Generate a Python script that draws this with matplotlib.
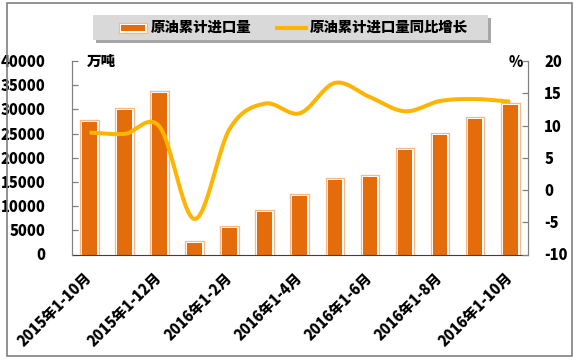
import numpy as np
import matplotlib
matplotlib.use("Agg")
import matplotlib.pyplot as plt
import matplotlib.patheffects as pe
from matplotlib.patches import Rectangle
from matplotlib.lines import Line2D

plt.rcParams['font.family'] = ['Noto Sans CJK JP', 'DejaVu Sans']
plt.rcParams['font.weight'] = 900

categories = ['2015年1-10月', '2015年1-11月', '2015年1-12月', '2016年1月', '2016年1-2月',
              '2016年1-3月', '2016年1-4月', '2016年1-5月', '2016年1-6月', '2016年1-7月',
              '2016年1-8月', '2016年1-9月', '2016年1-10月']
imports = [27300, 29900, 33400, 2450, 5450, 8800, 12000, 15300, 16000, 21500, 24800, 28000, 31000]
growth = [8.9, 8.7, 9.8, -4.5, 9.5, 13.4, 11.9, 16.6, 14.4, 12.2, 13.8, 14.1, 13.7]
left_ticks = [0, 5000, 10000, 15000, 20000, 25000, 30000, 35000, 40000]
right_ticks = [-10, -5, 0, 5, 10, 15, 20]
series_names = ['原油累计进口量', '原油累计进口量同比增长']

W, H = 578, 364
BAR = '#E46C0A'
PEACH = '#F6B98C'
GOLD = '#FFB400'
FS = 10.5
WT = 900

def fx(x):
    return x / W

def fy(y):
    return 1 - y / H

fig = plt.figure(figsize=(W / 100, H / 100), dpi=100)
ax = fig.add_axes([fx(72), fy(254.5), (527.7 - 72) / W, (254.5 - 61) / H])
ax2 = ax.twinx()

bar_fx = [pe.Stroke(linewidth=3.8, foreground=PEACH),
          pe.Stroke(linewidth=2.0, foreground='white'),
          pe.Normal()]

x = np.arange(len(categories))
bars = ax.bar(x, imports, width=0.42, color=BAR, edgecolor='none', zorder=2)
for b in bars:
    b.set_path_effects(bar_fx)

# smooth line (Catmull-Rom rendering through the data points)
def catmull(xs, ys, n=24):
    xs = np.asarray(xs, float)
    ys = np.asarray(ys, float)
    px = np.concatenate([[2 * xs[0] - xs[1]], xs, [2 * xs[-1] - xs[-2]]])
    py = np.concatenate([[2 * ys[0] - ys[1]], ys, [2 * ys[-1] - ys[-2]]])
    outx, outy = [], []
    for i in range(1, len(px) - 2):
        t = np.linspace(0, 1, n, endpoint=False)
        for P, out in ((px, outx), (py, outy)):
            p0, p1, p2, p3 = P[i - 1], P[i], P[i + 1], P[i + 2]
            out.extend(0.5 * ((2 * p1) + (-p0 + p2) * t +
                              (2 * p0 - 5 * p1 + 4 * p2 - p3) * t ** 2 +
                              (-p0 + 3 * p1 - 3 * p2 + p3) * t ** 3))
    outx.append(xs[-1])
    outy.append(ys[-1])
    return np.array(outx), np.array(outy)

sx, sy = catmull(x, growth)
ax2.plot(sx, sy, color=GOLD, lw=2.9, solid_capstyle='butt', zorder=3)

ax.set_xlim(-0.5, len(categories) - 0.5)
ax.set_ylim(0, 40000)
ax2.set_ylim(-10, 20)
ax.set_yticks(left_ticks)
ax.set_yticklabels([str(v) for v in left_ticks])
ax2.set_yticks(right_ticks)
ax2.set_yticklabels([str(v) for v in right_ticks])
ax.set_xticks(x[::2])
ax.set_xticklabels(categories[::2], rotation=45, ha='right', va='center',
                   rotation_mode='anchor', fontsize=FS, fontweight=WT)
ax.tick_params(axis='x', length=0, pad=15)
ax.tick_params(axis='y', direction='in', length=4, width=0.9, color='#808080',
               pad=19, labelsize=FS)
ax2.tick_params(axis='y', direction='in', length=4, width=0.9, color='#808080',
                pad=12, labelsize=FS)
for a in (ax, ax2):
    a.spines['top'].set_visible(False)
    a.spines['left'].set_color('#808080')
    a.spines['right'].set_color('#808080')
    a.spines['bottom'].set_color('#404040')
    a.patch.set_visible(False)
for lab in ax.get_yticklabels() + ax2.get_yticklabels():
    lab.set_fontweight(WT)
ax2.spines['bottom'].set_visible(False)
ax2.set_zorder(ax.get_zorder() + 1)

ax.text(0.0636, 1.0, '万吨', transform=ax.transAxes, ha='center', va='center',
        fontsize=FS, fontweight=WT)
ax.text(0.974, 0.99, '%', transform=ax.transAxes, ha='center', va='center',
        fontsize=FS, fontweight=WT)

# outer border
fig.patches.append(Rectangle((fx(6.5), fy(356)), fx(572) - fx(6.5), fy(3) - fy(356),
                             transform=fig.transFigure, facecolor='none',
                             edgecolor='#7f7f7f', lw=1.2))

# legend (manual)
fig.patches.append(Rectangle((fx(96), fy(43)), fx(491) - fx(96), fy(18) - fy(43),
                             transform=fig.transFigure, facecolor='#A6A6A6',
                             edgecolor='none', zorder=1))
fig.patches.append(Rectangle((fx(93), fy(40)), fx(488) - fx(93), fy(15) - fy(40),
                             transform=fig.transFigure, facecolor='#D9D9D9',
                             edgecolor='none', zorder=2))
lp = Rectangle((fx(120.7), fy(30.5)), fx(145.3) - fx(120.7), fy(25.5) - fy(30.5),
               transform=fig.transFigure, facecolor=BAR, edgecolor='none', zorder=3)
lp.set_path_effects(bar_fx)
fig.patches.append(lp)
fig.lines.append(Line2D([fx(275), fx(308)], [fy(27.5), fy(27.5)], transform=fig.transFigure,
                        color=GOLD, lw=2.9, solid_capstyle='butt', zorder=3))
fig.text(fx(151), fy(27.5), series_names[0], ha='left', va='center', fontsize=10.4,
         fontweight=WT, zorder=4)
fig.text(fx(310), fy(27.5), series_names[1], ha='left', va='center', fontsize=10.4,
         fontweight=WT, zorder=4)

fig.savefig('out.png', dpi=100)
